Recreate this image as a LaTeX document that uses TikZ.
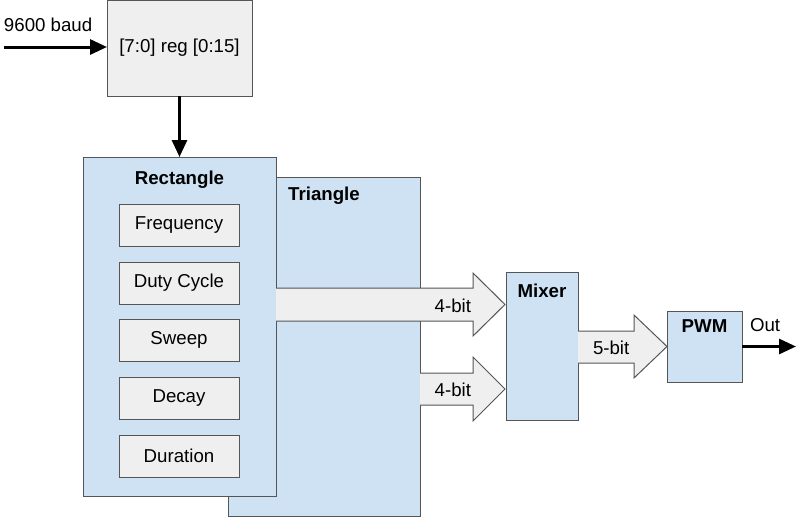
\documentclass[tikz,border=0pt]{standalone}
\usepackage{fontspec}
\setmainfont{Liberation Sans}
\usetikzlibrary{arrows.meta}
\definecolor{lblue}{HTML}{CFE2F3}
\definecolor{lgray}{HTML}{EFEFEF}
\definecolor{edge}{HTML}{555555}
\begin{document}
\begin{tikzpicture}[x=1pt,y=-1pt,
  font=\fontsize{18.67}{22}\selectfont,
  box/.style={draw=edge,line width=1pt,inner sep=0pt,outer sep=0pt},
  bluebox/.style={box,fill=lblue},
  graybox/.style={box,fill=lgray},
  thin box/.style={box},
  bigarrow/.style={draw=edge,line width=1pt,fill=lgray,line join=miter},
  wire/.style={line width=3pt,-{Triangle[length=17pt,width=15pt]}},
  lbl/.style={inner sep=0pt,outer sep=0pt},
  title/.style={lbl,font=\fontsize{18.67}{22}\selectfont\bfseries}]
\useasboundingbox (0,0) rectangle (796,517);

% register
\node[graybox,minimum width=145pt,minimum height=96pt] (reg) at (179.5,48) {[7:0] reg [0:15]};
\coordinate (in) at (4,47);
\node[lbl,anchor=west] (baud) at (4,25) {9600 baud};

% triangle and rectangle
\node[bluebox,minimum width=192pt,minimum height=339pt] (tri) at (324,346.5) {};
\node[title] (tril) at (324,196) {Triangle};
\node[bluebox,minimum width=193pt,minimum height=339pt] (rect) at (179.5,326.5) {};
\node[title] (rectl) at (179.5,180) {Rectangle};

% inner boxes
\foreach \n/\t/\y in {f/Frequency/225, d/Duty Cycle/283, s/Sweep/340, c/Decay/398, u/Duration/456}{
  \node[graybox,minimum width=120pt,minimum height=42pt] (\n) at (179,\y) {\t};
}

% mixer, pwm
\node[bluebox,minimum width=72pt,minimum height=148pt] (mix) at (542,346) {};
\node[title] (mixl) at (542,291) {Mixer};
\node[bluebox,minimum width=75pt,minimum height=71pt] (pwm) at (704.5,346.5) {};
\node[title] (pwml) at (704.5,326) {PWM};
\coordinate (out) at (796,346.5);
\node[lbl,anchor=west] (outl) at (750,325) {Out};

% block arrows
\fill[lgray] (276,288) -- (473,288) -- (473,273) -- (505,304.5) -- (473,336) -- (473,321) -- (276,321) -- cycle;
\draw[bigarrow,fill=none] (276,288) -- (473,288) -- (473,273) -- (505,304.5) -- (473,336) -- (473,321) -- (276,321);
\node[lbl,anchor=east] (b1) at (471,306) {4-bit};

\fill[lgray] (420,373) -- (473,373) -- (473,357) -- (505,389) -- (473,421) -- (473,405) -- (420,405) -- cycle;
\draw[bigarrow,fill=none] (420,373) -- (473,373) -- (473,357) -- (505,389) -- (473,421) -- (473,405) -- (420,405);
\node[lbl,anchor=east] (b2) at (471,390) {4-bit};

\fill[lgray] (578,331) -- (634,331) -- (634,315) -- (667,346.5) -- (634,378) -- (634,363) -- (578,363) -- cycle;
\draw[bigarrow,fill=none] (578,331) -- (634,331) -- (634,315) -- (667,346.5) -- (634,378) -- (634,363) -- (578,363);
\node[lbl,anchor=west] (b3) at (593,348) {5-bit};

% wires
\draw[wire] (in) -- (reg.west |- in);
\draw[wire] (reg.south) -- (rect.north);
\draw[wire] (pwm.east) -- (out);
\end{tikzpicture}
\end{document}
